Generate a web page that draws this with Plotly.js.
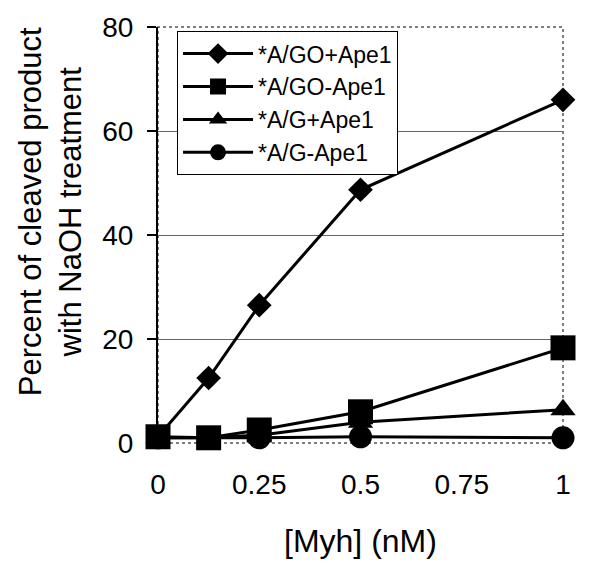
<!DOCTYPE html>
<html>
<head>
<meta charset="utf-8">
<script src="https://cdn.plot.ly/plotly-3.0.1.min.js"></script>
<style>html,body{margin:0;padding:0;background:#fff;}#chart{width:600px;height:576px;}</style>
</head>
<body>
<div id="chart"></div>
<script>
var myh = [0, 0.125, 0.25, 0.5, 1];
var seriesNames = ["*A/GO+Ape1", "*A/GO-Ape1", "*A/G+Ape1", "*A/G-Ape1"];
var goPlusApe1 = [1.2, 12.5, 26.5, 48.7, 66];
var goMinusApe1 = [1.2, 1, 2.5, 6, 18.3];
var gPlusApe1 = [1, 1, 1.5, 4, 6.4];
var gMinusApe1 = [1, 1, 1, 1.2, 1];
var xTickVals = [0, 0.25, 0.5, 0.75, 1];
var xTickText = ["0", "0.25", "0.5", "0.75", "1"];
var yTickVals = [0, 20, 40, 60, 80];

var FONT = "Liberation Sans, Arial, sans-serif";
var symbols = ["diamond", "square", "triangle-up", "circle"];
var sizes = [19, 25, 22, 23];
var ys = [goPlusApe1, goMinusApe1, gPlusApe1, gMinusApe1];

var traces = ys.map(function (y, i) {
  return {
    x: myh, y: y, name: seriesNames[i], type: "scatter", mode: "lines+markers",
    line: {color: "#000", width: 3},
    marker: {symbol: symbols[i], size: sizes[i], color: "#000"},
    cliponaxis: false
  };
});

var layout = {
  width: 600, height: 576,
  margin: {l: 158, r: 37, t: 27, b: 133},
  paper_bgcolor: "#fff", plot_bgcolor: "#fff",
  font: {family: FONT, color: "#000"},
  showlegend: true,
  legend: {
    x: 0.047, y: 0.99, xanchor: "left", yanchor: "top",
    bgcolor: "#fff", bordercolor: "#000", borderwidth: 1,
    font: {family: FONT, size: 23, color: "#000"},
    itemwidth: 70, tracegroupgap: 0
  },
  xaxis: {
    range: [0, 1], tickvals: xTickVals, ticktext: xTickText,
    showgrid: false, zeroline: false, showline: false, ticks: "",
    tickfont: {family: FONT, size: 28, color: "#000"},
    ticklabelstandoff: 22
  },
  yaxis: {
    range: [0, 80], tickvals: yTickVals,
    showgrid: true, gridcolor: "#666", gridwidth: 1,
    zeroline: false, showline: true, linecolor: "#000", linewidth: 2,
    ticks: "outside", ticklen: 9, tickwidth: 1.5, tickcolor: "#000",
    tickfont: {family: FONT, size: 28, color: "#000"},
    ticklabelstandoff: 8
  },
  shapes: [
    {type: "rect", xref: "paper", yref: "paper", x0: 0, x1: 1, y0: 0, y1: 1,
     line: {color: "#555", width: 1.5, dash: "dot"}, layer: "below"}
  ],
  annotations: [
    {text: "Percent of cleaved product<br>with NaOH treatment", textangle: -90,
     xref: "paper", yref: "paper", x: -0.267, y: 0.557, xanchor: "center", yanchor: "middle",
     showarrow: false, font: {family: FONT, size: 31, color: "#000"}},
    {text: "[Myh] (nM)", xref: "paper", yref: "paper", x: 0.5, y: -0.236,
     xanchor: "center", yanchor: "middle", showarrow: false,
     font: {family: FONT, size: 32, color: "#000"}}
  ]
};

Plotly.newPlot("chart", traces, layout, {staticPlot: true});
</script>
</body>
</html>
